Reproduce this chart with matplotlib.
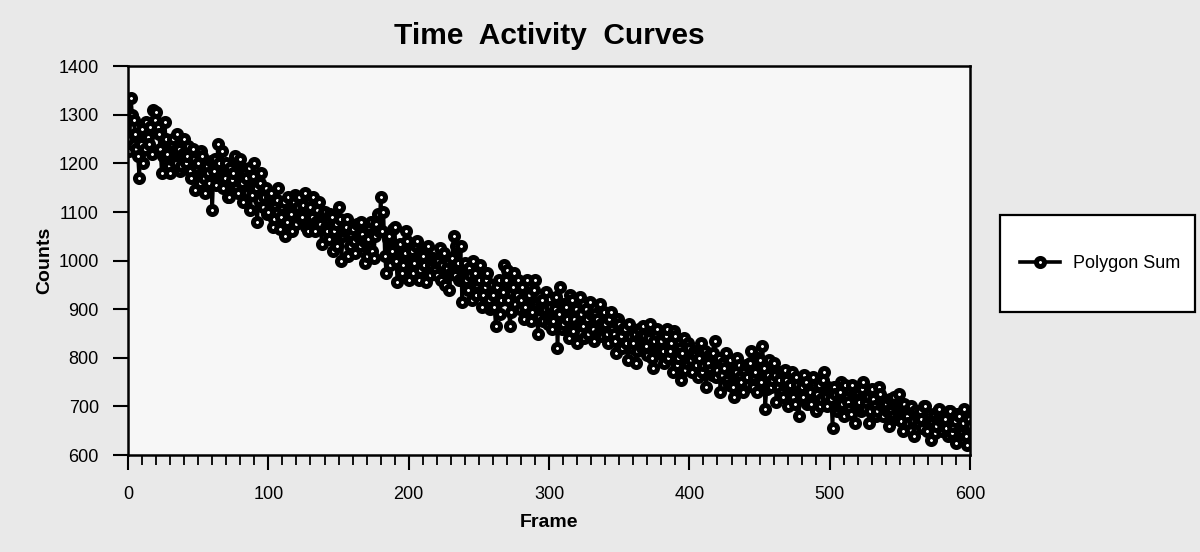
import matplotlib
matplotlib.use('Agg')
import matplotlib.pyplot as plt
from matplotlib.patches import Rectangle
import numpy as np

# counts, one per frame, split into even and odd frames
counts_even = [  # frames 0, 2, ..., 600
    1250, 1335, 1290, 1230, 1170, 1270, 1230, 1255, 1275, 1310,
    1305, 1260, 1180, 1285, 1220, 1180, 1250, 1200, 1230, 1195,
    1250, 1215, 1185, 1230, 1145, 1200, 1225, 1170, 1195, 1160,
    1105, 1210, 1240, 1175, 1150, 1200, 1130, 1165, 1215, 1140,
    1210, 1120, 1170, 1190, 1135, 1200, 1080, 1160, 1110, 1150,
    1100, 1140, 1085, 1125, 1065, 1110, 1050, 1130, 1095, 1120,
    1075, 1130, 1090, 1140, 1060, 1110, 1130, 1080, 1120, 1035,
    1100, 1060, 1095, 1020, 1075, 1110, 1000, 1060, 1085, 1030,
    1065, 1015, 1050, 1080, 1040, 1010, 1070, 1020, 1050, 1095,
    1130, 1100, 975, 1050, 1020, 1070, 955, 1035, 990, 1060,
    960, 1020, 995, 1040, 980, 1010, 955, 1030, 990, 1000,
    970, 1025, 990, 950, 1000, 975, 1050, 1030, 960, 915,
    995, 940, 970, 1000, 930, 960, 905, 945, 975, 900,
    930, 865, 960, 920, 990, 980, 865, 945, 910, 960,
    920, 880, 960, 930, 895, 960, 850, 910, 875, 935,
    880, 860, 900, 820, 945, 870, 905, 840, 920, 880,
    830, 925, 865, 900, 850, 890, 835, 880, 910, 845,
    870, 830, 895, 850, 810, 870, 820, 860, 795, 845,
    830, 790, 860, 820, 845, 805, 870, 780, 850, 810,
    835, 790, 860, 815, 770, 845, 800, 755, 840, 790,
    820, 770, 805, 760, 830, 785, 740, 805, 765, 835,
    775, 730, 790, 810, 745, 775, 720, 800, 760, 730,
    785, 745, 815, 760, 730, 795, 825, 695, 765, 740,
    790, 710, 755, 730, 775, 700, 745, 720, 760, 680,
    740, 765, 705, 730, 760, 690, 745, 715, 770, 700,
    735, 655, 725, 700, 750, 680, 720, 695, 745, 665,
    730, 690, 750, 710, 665, 735, 700, 690, 725, 680,
    705, 660, 690, 720, 675, 700, 650, 690, 665, 700,
    640, 680, 690, 655, 700, 670, 630, 685, 660, 695,
    650, 675, 640, 690, 660, 625, 680, 645, 695, 620,
    660,
]
counts_odd = [  # frames 1, 3, ..., 599
    1225, 1300, 1260, 1215, 1240, 1200, 1285, 1240, 1220, 1290,
    1275, 1230, 1215, 1250, 1195, 1240, 1205, 1260, 1185, 1220,
    1200, 1235, 1170, 1210, 1190, 1160, 1215, 1140, 1180, 1205,
    1185, 1155, 1200, 1225, 1170, 1130, 1190, 1180, 1150, 1200,
    1160, 1185, 1140, 1105, 1175, 1150, 1125, 1180, 1130, 1095,
    1130, 1070, 1115, 1150, 1090, 1120, 1080, 1105, 1060, 1135,
    1110, 1085, 1115, 1070, 1125, 1090, 1060, 1105, 1075, 1095,
    1070, 1045, 1090, 1060, 1030, 1085, 1050, 1070, 1010, 1055,
    1040, 1075, 1030, 1055, 995, 1045, 1080, 1005, 1075, 1060,
    1060, 1010, 1045, 990, 1065, 1000, 1030, 975, 1015, 1040,
    1000, 975, 1030, 960, 1015, 990, 1025, 970, 1005, 980,
    1000, 960, 1015, 985, 940, 1005, 970, 995, 1030, 965,
    960, 985, 920, 975, 950, 990, 930, 960, 920, 950,
    905, 945, 890, 935, 960, 920, 895, 975, 930, 900,
    945, 905, 925, 875, 940, 910, 885, 920, 900, 870,
    905, 875, 925, 890, 860, 910, 880, 930, 855, 900,
    870, 890, 840, 880, 915, 860, 890, 850, 870, 895,
    850, 880, 860, 835, 880, 845, 860, 830, 870, 820,
    850, 815, 840, 865, 825, 840, 800, 835, 860, 825,
    815, 845, 800, 830, 855, 785, 820, 810, 775, 830,
    795, 815, 785, 800, 770, 815, 790, 775, 810, 760,
    800, 765, 780, 755, 795, 740, 770, 785, 750, 775,
    760, 790, 740, 770, 800, 750, 780, 735, 795, 755,
    765, 740, 770, 720, 755, 735, 770, 705, 745, 730,
    720, 750, 735, 705, 745, 725, 700, 755, 720, 740,
    715, 740, 690, 730, 705, 745, 710, 685, 725, 705,
    710, 735, 695, 720, 690, 715, 680, 740, 700, 710,
    690, 715, 680, 700, 725, 670, 705, 680, 695, 670,
    690, 665, 675, 700, 650, 685, 665, 645, 690, 670,
    665, 655, 690, 645, 670, 685, 650, 665, 640, 675,
]
series_name = 'Polygon Sum'
x_ticks = [0, 100, 200, 300, 400, 500, 600]
y_ticks = [600, 700, 800, 900, 1000, 1100, 1200, 1300, 1400]

frames = np.arange(len(counts_even) + len(counts_odd))
counts = np.empty(len(frames))
counts[0::2] = counts_even
counts[1::2] = counts_odd

plt.rcParams['font.family'] = ['Liberation Sans', 'DejaVu Sans']

fig = plt.figure(figsize=(12, 5.52), dpi=100, facecolor='#e9e9e9')
ax = fig.add_axes([0.1067, 0.1757, 0.7017, 0.7043])
ax.set_facecolor('#f7f7f7')

ax.plot(frames, counts, color='black', lw=2.6, marker='o', markersize=5.8,
        markerfacecolor='white', markeredgecolor='black', markeredgewidth=3.6,
        label=series_name)

ax.set_xlim(0, 600)
ax.set_ylim(600, 1400)
ax.set_xticks(x_ticks)
ax.set_xticks(np.arange(0, 601, 10), minor=True)
ax.set_yticks(y_ticks)
ax.tick_params(axis='both', which='major', direction='out', length=11, width=1.5,
               labelsize=13)
ax.tick_params(axis='x', which='major', pad=11)
ax.tick_params(axis='y', which='major', pad=10)
ax.tick_params(axis='x', which='minor', direction='out', length=7, width=1.3)
for s in ax.spines.values():
    s.set_linewidth(1.8)

ax.set_title('Time  Activity  Curves', fontsize=21.5, fontweight='bold', pad=16)
ax.set_xlabel('Frame', fontsize=14, fontweight='bold', labelpad=8)
ax.set_ylabel('Counts', fontsize=14, fontweight='bold', labelpad=4)

# legend box drawn as a figure patch, legend itself frameless inside it
fig.patches.append(Rectangle((1000 / 1200, 240 / 552), 195 / 1200, 97 / 552,
                             transform=fig.transFigure, facecolor='white',
                             edgecolor='black', linewidth=1.6, zorder=0))
fig.legend(loc='center', bbox_to_anchor=(1100 / 1200, 288 / 552), fontsize=13,
           frameon=False, handlelength=2.2, handletextpad=0.7)

fig.savefig('out.png', dpi=100, facecolor=fig.get_facecolor())
